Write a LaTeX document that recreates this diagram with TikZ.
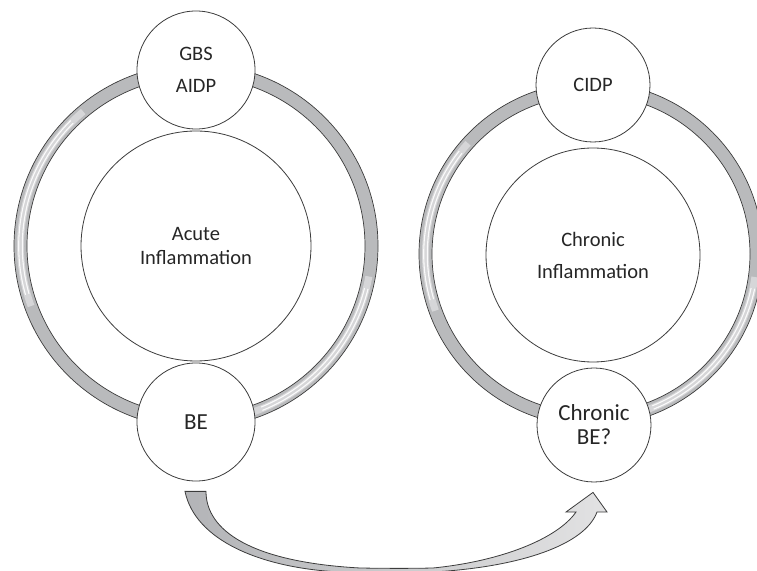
\documentclass[tikz,border=0pt]{standalone}
\usepackage{fontspec}
\setmainfont{Carlito}
\definecolor{ringgray}{HTML}{B9BABC}
\definecolor{ringlight}{HTML}{D6D6D8}
\definecolor{edgegray}{HTML}{3C3C3C}
\definecolor{txt}{HTML}{262626}
\definecolor{arrowdark}{HTML}{B3B4B7}
\definecolor{arrowlight}{HTML}{E2E2E3}
\begin{document}
\begin{tikzpicture}[x=1pt,y=1pt,
  ringbase/.style={line width=13pt, draw=ringgray},
  ringhi/.style={line width=7pt, draw=ringlight},
  ringshine/.style={line width=1.1pt, draw=white, opacity=0.9},
  ringedge/.style={line width=0.7pt, draw=edgegray},
  bubble/.style={circle, draw=edgegray, fill=white, line width=0.8pt, inner sep=0pt,
    align=center, text=txt, font=\fontsize{20.5}{24}\selectfont},
  bigtext/.style={font=\fontsize{23}{24}\selectfont},
  curvearrow/.style={draw=edgegray, line width=0.8pt, left color=arrowdark, right color=arrowlight, line join=miter}
]
\useasboundingbox (0,0) rectangle (757,570);
\clip (0,0) rectangle (757,570);

% ring centres
\coordinate (lc) at (196,324);
\coordinate (rc) at (591,316);

% left ring
\draw[ringbase] (lc) circle[radius=175.5pt];
\draw[ringhi] (lc) ++(130:175.5pt) arc[start angle=130, end angle=200, radius=175.5pt];
\draw[ringshine] (lc) ++(135:173.7pt) arc[start angle=135, end angle=196, radius=173.7pt];
\draw[ringshine] (lc) ++(135:177.3pt) arc[start angle=135, end angle=196, radius=177.3pt];
\draw[ringhi] (lc) ++(288:175.5pt) arc[start angle=288, end angle=350, radius=175.5pt];
\draw[ringshine] (lc) ++(292:173.7pt) arc[start angle=292, end angle=346, radius=173.7pt];
\draw[ringshine] (lc) ++(292:177.3pt) arc[start angle=292, end angle=346, radius=177.3pt];
\draw[ringedge] (lc) circle[radius=182pt];
\draw[ringedge] (lc) circle[radius=169pt];

% right ring
\draw[ringbase] (rc) circle[radius=165.5pt];
\draw[ringhi] (rc) ++(138:165.5pt) arc[start angle=138, end angle=200, radius=165.5pt];
\draw[ringshine] (rc) ++(142:163.7pt) arc[start angle=142, end angle=196, radius=163.7pt];
\draw[ringshine] (rc) ++(142:167.3pt) arc[start angle=142, end angle=196, radius=167.3pt];
\draw[ringhi] (rc) ++(288:165.5pt) arc[start angle=288, end angle=352, radius=165.5pt];
\draw[ringshine] (rc) ++(292:163.7pt) arc[start angle=292, end angle=348, radius=163.7pt];
\draw[ringshine] (rc) ++(292:167.3pt) arc[start angle=292, end angle=348, radius=167.3pt];
\draw[ringedge] (rc) circle[radius=172pt];
\draw[ringedge] (rc) circle[radius=159pt];

% left group
\node[bubble, minimum size=230pt] (acute) at (196,324) {Acute\\Inflammation};
\node[bubble, minimum size=118pt] (gbs) at (196,500) {GBS\\[8pt]AIDP};
\node[bubble, bigtext, minimum size=118pt] (be) at (196,148) {BE};

% right group
\node[bubble, minimum size=214pt] (chronic) at (593,315) {Chronic\\[8pt]Inflammation};
\node[bubble, minimum size=114pt] (cidp) at (593,485) {CIDP};
\node[bubble, bigtext, minimum size=114pt] (cbe) at (594,145) {Chronic\\BE?};

% curved up arrow from BE to Chronic BE?
\coordinate (tailL) at ([xshift=-11pt,yshift=-10pt]be.south);
\coordinate (tailR) at ([xshift=10pt,yshift=-10pt]be.south);
\coordinate (tip) at ([xshift=-1pt,yshift=-10pt]cbe.south);
\path[curvearrow] (tailL) -- (tailR)
  .. controls (206,40) and (250,8) .. (360,2)
  .. controls (390,1.5) and (410,1.5) .. (433,2)
  .. controls (503,9) and (558,32) .. (576,58)
  -- (566,58) -- (tip) -- (607,58) -- (597,58)
  .. controls (585,25) and (520,3) .. (433,-2)
  -- (340,-2)
  .. controls (260,2) and (195,30) .. (tailL) -- cycle;
\end{tikzpicture}
\end{document}
